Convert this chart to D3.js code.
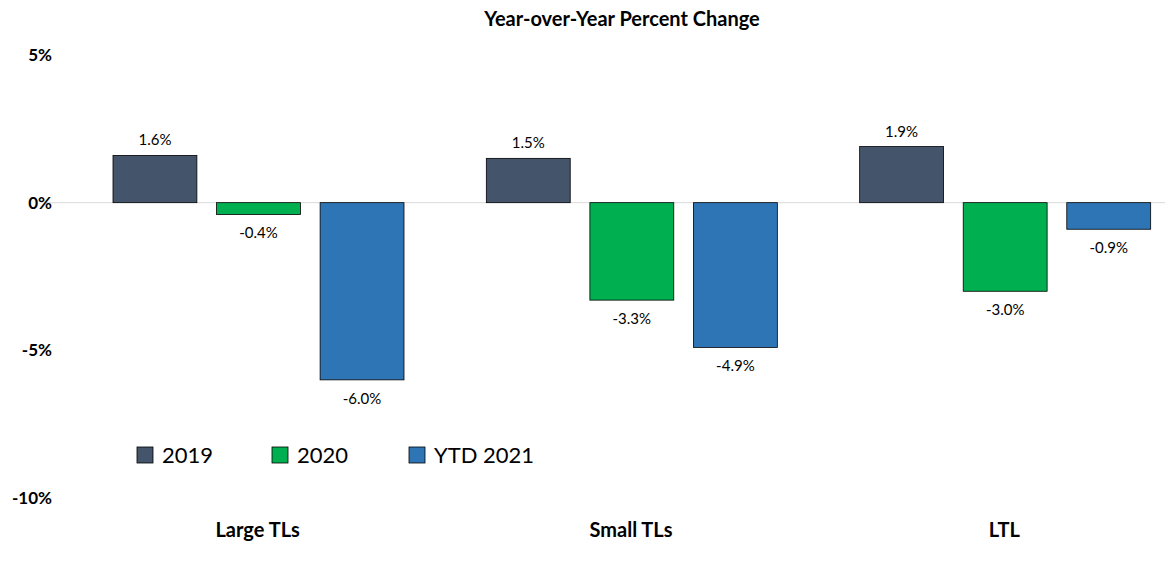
<!DOCTYPE html>
<html><head><meta charset="utf-8">
<script src="https://cdn.jsdelivr.net/npm/d3@7"></script>
<style>body{margin:0;background:#fff;font-family:Lato,"Open Sans",sans-serif}</style>
</head><body><div id="chart"></div>
<script>
// Data
var categories = ["Large TLs", "Small TLs", "LTL"];
var seriesNames = ["2019", "2020", "YTD 2021"];
var values2019 = [1.6, 1.5, 1.9];
var values2020 = [-0.4, -3.3, -3.0];
var values2021 = [-6.0, -4.9, -0.9];
var tickValues = [5, 0, -5, -10];
var colors = ["#44546a", "#00b050", "#2e75b6"];

var seriesValues = [values2019, values2020, values2021];
var width = 1165, height = 561;

var svg = d3.select("#chart").append("svg")
  .attr("width", width).attr("height", height);

var y = d3.scaleLinear().domain([-10, 5]).range([498, 55]);
var x0 = d3.scaleBand().domain(categories).range([72, 1192]);
var x1 = d3.scaleBand().domain(seriesNames).range([41, 332]).paddingInner(0.19);

svg.append("text").attr("x", 622).attr("y", 26).attr("text-anchor", "middle")
  .attr("font-weight", "bold").attr("font-size", 20).text("Year-over-Year Percent Change");

// zero line
svg.append("line").attr("x1", 45).attr("x2", 1165)
  .attr("y1", y(0)).attr("y2", y(0)).attr("stroke", "#d9d9d9");

// y ticks
svg.selectAll(".tick").data(tickValues).enter().append("text")
  .attr("x", 52).attr("y", function(d) { return y(d) + 6; })
  .attr("text-anchor", "end").attr("font-weight", "bold").attr("font-size", 17)
  .text(function(d) { return d + "%"; });

var groups = svg.selectAll(".grp").data(categories).enter().append("g")
  .attr("transform", function(d) { return "translate(" + x0(d) + ",0)"; });

groups.each(function(cat, ci) {
  var g = d3.select(this);
  seriesNames.forEach(function(s, si) {
    var v = seriesValues[si][ci];
    g.append("rect")
      .attr("x", x1(s)).attr("width", x1.bandwidth())
      .attr("y", y(Math.max(0, v))).attr("height", Math.abs(y(v) - y(0)))
      .attr("fill", colors[si]).attr("stroke", "#000").attr("stroke-width", 0.8);
    g.append("text")
      .attr("x", x1(s) + x1.bandwidth() / 2)
      .attr("y", v >= 0 ? y(v) - 10 : y(v) + 24)
      .attr("text-anchor", "middle").attr("font-size", 15)
      .text(v.toFixed(1) + "%");
  });
  g.append("text").attr("x", x0.bandwidth() / 2 - 1).attr("y", 537)
    .attr("text-anchor", "middle").attr("font-weight", "bold").attr("font-size", 20)
    .text(cat);
});

// legend
var legX = [137, 272, 409];
seriesNames.forEach(function(s, i) {
  svg.append("rect").attr("x", legX[i]).attr("y", 447).attr("width", 16).attr("height", 16)
    .attr("fill", colors[i]).attr("stroke", "#000").attr("stroke-width", 0.8);
  svg.append("text").attr("x", legX[i] + 25).attr("y", 463).attr("font-size", 22).text(s);
});
</script></body></html>
